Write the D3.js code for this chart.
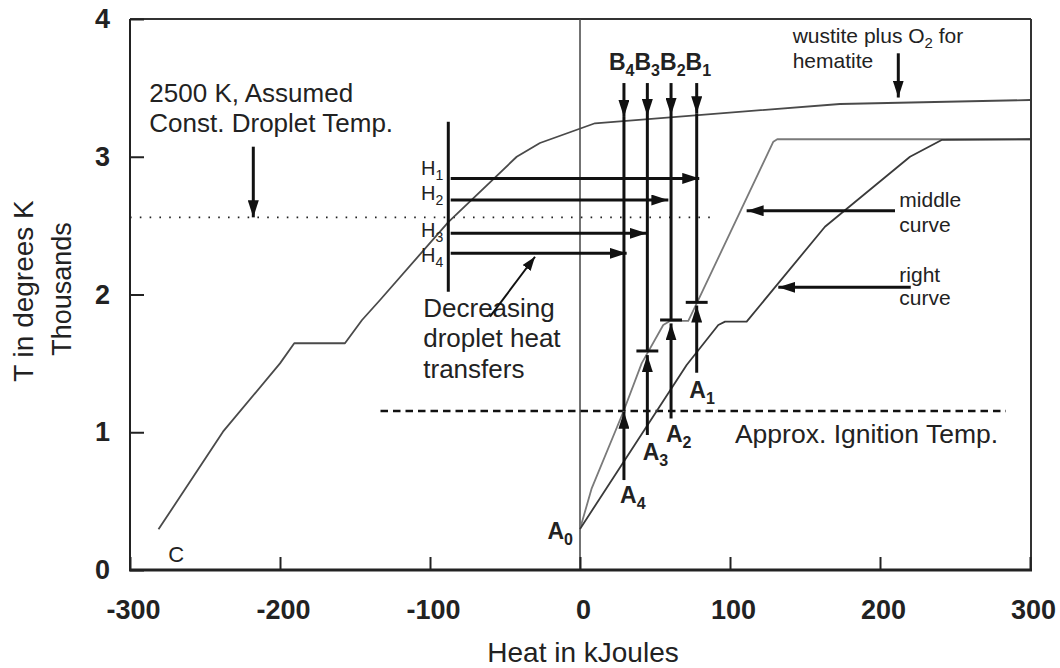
<!DOCTYPE html>
<html>
<head>
<meta charset="utf-8">
<script src="https://cdnjs.cloudflare.com/ajax/libs/d3/7.8.5/d3.min.js"></script>
<style>
body{margin:0;background:#fff;}
svg text{font-family:"Liberation Sans",Arial,Helvetica,sans-serif;fill:#222;}
</style>
</head>
<body>
<div id="chart"></div>
<script>
// heat in kJ on x, temperature in thousands of K on y
let heatTicks = [-300,-200,-100,0,100,200,300];
let tempTicks = [0,1,2,3,4];

let leftCurve = [[-281,0.295],[-238,1.004],[-200,1.50],[-190.5,1.646],[-156.7,1.646],[-145.3,1.815],[-133.3,1.96],[-87.8,2.526],[-42.2,3.0],[-26.7,3.10],[10,3.243],[173.3,3.383],[300,3.412]];
let middleCurve = [[0,0.298],[7.8,0.593],[28.9,1.149],[41.1,1.50],[55.5,1.779],[60,1.808],[72.2,1.808],[77.8,1.936],[128.9,3.109],[131.5,3.127],[300,3.127]];
let rightCurve = [[0,0.298],[71.1,1.488],[92.2,1.779],[96.7,1.803],[111.1,1.803],[163.3,2.492],[220,3.0],[241.1,3.122],[300,3.127]];

let dropletTemp = 2.56;      // dotted line
let dropletRange = [-300,92];
let ignitionTemp = 1.154;    // dashed line
let ignitionRange = [-133,284];

// B / A vertical markers, order 4,3,2,1
let markNames = ["4","3","2","1"];
let markHeat = [29.3,44.9,60.7,77.8];
let bTop = 3.535;
let bTip = [3.289,3.296,3.303,3.315];
let bEnd = [1.154,1.59,1.815,1.943];
let aStart = [0.653,0.98,1.10,1.432];
let aTip = [1.149,1.56,1.79,1.92];
let aLabelPos = [[26.7,0.484],[41.8,0.799],[57.3,0.931],[72.9,1.246]];

// H arrows, order 1..4
let hNames = ["1","2","3","4"];
let hLevels = [2.843,2.686,2.444,2.299];
let hTipHeat = [79.5,58.9,44.5,31.1];
let hLabelT = [2.868,2.686,2.417,2.238];
let hBarHeat = -87.8, hBarRange = [2.02,3.254], hTailHeat = -86.2;

let screen = {width:1060, height:668};
let xScale = d3.scaleLinear().domain([-300,300]).range([130,1030]);
let yScale = d3.scaleLinear().domain([0,4]).range([570,19]);

let svg = d3.select("#chart").append("svg")
    .attr("width",screen.width)
    .attr("height",screen.height);

let defs = svg.append("defs");
let addMarker = function(id,len,wid)
{
    defs.append("marker")
        .attr("id",id)
        .attr("viewBox","0 0 "+len+" "+wid)
        .attr("markerWidth",len)
        .attr("markerHeight",wid)
        .attr("markerUnits","userSpaceOnUse")
        .attr("refX",len)
        .attr("refY",wid/2)
        .attr("orient","auto")
        .append("path")
        .attr("d","M0,0L"+len+","+(wid/2)+"L0,"+wid+"Z")
        .attr("fill","#111");
};
addMarker("arrowBig",17,11);
addMarker("arrowThin",14,10);

// frame
let frame = svg.append("g");
frame.append("line").attr("x1",130).attr("x2",1031).attr("y1",19).attr("y2",19).attr("stroke","#333").attr("stroke-width",2);
frame.append("line").attr("x1",1031).attr("x2",1031).attr("y1",19).attr("y2",570).attr("stroke","#333").attr("stroke-width",2);
frame.append("line").attr("x1",xScale(0)).attr("x2",xScale(0)).attr("y1",19).attr("y2",570).attr("stroke","#444").attr("stroke-width",1.5);
frame.append("line").attr("x1",130).attr("x2",130).attr("y1",19).attr("y2",571).attr("stroke","#222").attr("stroke-width",2);
frame.append("line").attr("x1",129).attr("x2",1032).attr("y1",570).attr("y2",570).attr("stroke","#222").attr("stroke-width",3);

let xAxis = svg.append("g").attr("transform","translate(0,570)")
    .call(d3.axisBottom(xScale).tickValues(heatTicks).tickFormat(function(d){ return String(d); })
        .tickSizeInner(-13).tickSizeOuter(0).tickPadding(30));
let yAxis = svg.append("g").attr("transform","translate(130,0)")
    .call(d3.axisLeft(yScale).tickValues(tempTicks).tickFormat(function(d){ return String(d); })
        .tickSizeInner(-14).tickSizeOuter(0).tickPadding(20));
[xAxis,yAxis].forEach(function(ax)
{
    ax.select(".domain").remove();
    ax.selectAll(".tick line").attr("stroke","#222").attr("stroke-width",2);
    ax.selectAll(".tick text")
        .style("font-family","'Liberation Sans',Arial,sans-serif")
        .style("font-size","27px")
        .style("font-weight","bold")
        .attr("fill","#222");
});
xAxis.selectAll(".tick text").attr("dx",3);

// reference lines
svg.append("line")
    .attr("x1",xScale(dropletRange[0])).attr("x2",xScale(dropletRange[1]))
    .attr("y1",yScale(dropletTemp)).attr("y2",yScale(dropletTemp))
    .attr("stroke","#222").attr("stroke-width",1.6).attr("stroke-dasharray","1.6,8.2");
svg.append("line")
    .attr("x1",xScale(ignitionRange[0])).attr("x2",xScale(ignitionRange[1]))
    .attr("y1",yScale(ignitionTemp)).attr("y2",yScale(ignitionTemp))
    .attr("stroke","#111").attr("stroke-width",2.5).attr("stroke-dasharray","7.5,5");

// curves
let line = d3.line()
    .x(function(d){ return xScale(d[0]); })
    .y(function(d){ return yScale(d[1]); });
let curves = [
    {data:leftCurve, color:"#4a4a4a"},
    {data:middleCurve, color:"#7a7a7a"},
    {data:rightCurve, color:"#3a3a3a"}
];
svg.selectAll(".curve")
    .data(curves)
    .enter()
    .append("path")
    .attr("class","curve")
    .attr("d",function(d){ return line(d.data); })
    .attr("fill","none")
    .attr("stroke",function(d){ return d.color; })
    .attr("stroke-width",1.8)
    .attr("stroke-linejoin","round");

let seg = function(x1,t1,x2,t2,w,marker)
{
    let l = svg.append("line")
        .attr("x1",xScale(x1)).attr("y1",yScale(t1))
        .attr("x2",xScale(x2)).attr("y2",yScale(t2))
        .attr("stroke","#111").attr("stroke-width",w);
    if(marker)
    {
        l.attr("marker-end","url(#"+marker+")");
    }
    return l;
};

// text with optional subscript parts
let label = function(hx,t,parts,size,weight,anchor)
{
    let txt = svg.append("text")
        .attr("x",xScale(hx)).attr("y",yScale(t))
        .attr("text-anchor",anchor || "start")
        .style("font-size",size+"px")
        .style("font-weight",weight || "normal");
    let down = false;
    parts.forEach(function(p)
    {
        let sub = (typeof p !== "string");
        let s = txt.append("tspan").text(sub ? p[0] : p);
        if(sub)
        {
            s.style("font-size",Math.round(size*0.7)+"px").attr("dy",size*0.25);
            down = true;
        }
        else if(down)
        {
            s.attr("dy",-size*0.25);
            down = false;
        }
    });
    return txt;
};

// B / A markers
markHeat.forEach(function(h,i)
{
    seg(h,bTop,h,bTip[i],3,"arrowBig");
    seg(h,bTip[i],h,bEnd[i],3);
    seg(h,aStart[i],h,aTip[i],3,"arrowBig");
    if(i>0)
    {
        svg.append("line")
            .attr("x1",xScale(h-7.3)).attr("x2",xScale(h+7.3))
            .attr("y1",yScale(bEnd[i])).attr("y2",yScale(bEnd[i]))
            .attr("stroke","#111").attr("stroke-width",3);
    }
    label(aLabelPos[i][0],aLabelPos[i][1],["A",[markNames[i]]],23,"bold");
});
label(19.3,3.63,["B",["4"],"B",["3"],"B",["2"],"B",["1"]],23,"bold");
label(-4.7,0.225,["A",["0"]],23,"bold","end");

// H arrows
seg(hBarHeat,hBarRange[0],hBarHeat,hBarRange[1],3);
hLevels.forEach(function(t,i)
{
    seg(hTailHeat,t,hTipHeat[i],t,3,"arrowBig");
    label(-106,hLabelT[i],["H",[hNames[i]]],20);
});

// annotations
label(-287.1,3.40,["2500 K, Assumed"],26);
label(-287.1,3.182,["Const. Droplet Temp."],26);
seg(-217.8,3.073,-217.8,dropletTemp,3,"arrowBig");

label(141.8,3.824,["wustite plus O",["2"]," for"],21);
label(141.8,3.642,["hematite"],21);
seg(212.2,3.751,212.2,3.43,3,"arrowBig");

label(212.9,2.637,["middle"],21);
label(212.9,2.456,["curve"],21);
seg(210,2.608,111.1,2.608,3,"arrowBig");

label(212.9,2.093,["right"],21);
label(212.9,1.924,["curve"],21);
seg(220.5,2.052,132.2,2.052,3,"arrowBig");

label(103.3,0.92,["Approx. Ignition Temp."],26.5);

label(-104.5,1.839,["Decreasing"],26);
label(-104.5,1.621,["droplet heat"],26);
label(-104.5,1.392,["transfers"],26);
seg(-60,1.839,-30,2.274,2,"arrowThin");

label(-274.5,0.06,["C"],22);

// axis titles
svg.append("text")
    .attr("x",xScale(0)+3).attr("y",662)
    .attr("text-anchor","middle")
    .style("font-size","28px")
    .text("Heat in kJoules");
svg.append("text")
    .attr("transform","translate(33,291) rotate(-90)")
    .attr("text-anchor","middle")
    .style("font-size","28px")
    .text("T in degrees K");
svg.append("text")
    .attr("transform","translate(71,289) rotate(-90)")
    .attr("text-anchor","middle")
    .style("font-size","27px")
    .text("Thousands");
</script>
</body>
</html>
